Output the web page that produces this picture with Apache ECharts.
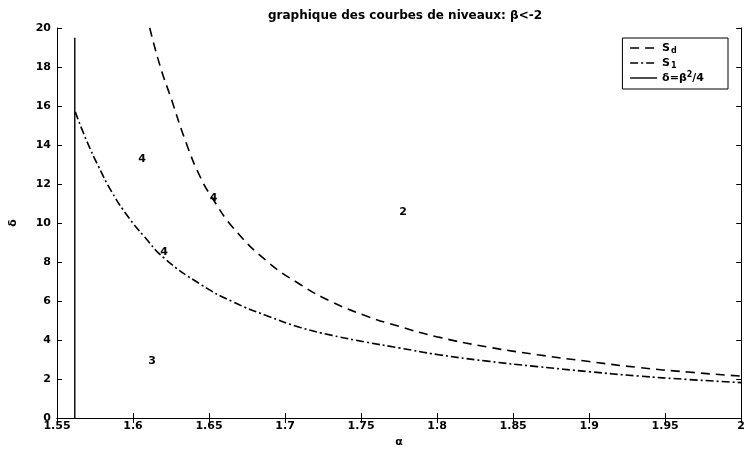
<!DOCTYPE html>
<html><head><meta charset="utf-8">
<script src="https://cdn.jsdelivr.net/npm/echarts@6/dist/echarts.min.js"></script>
<style>html,body{margin:0;padding:0;background:#fff}#c{width:748px;height:453px}</style>
</head><body><div id="c"></div>
<script>
const titleText = 'graphique des courbes de niveaux: β<-2';
const xTicks = { min: 1.55, max: 2, interval: 0.05 };
const yTicks = { min: 0, max: 20, interval: 2 };

const sdAlpha = [1.611,1.618,1.625,1.635,1.644,1.652,1.666,1.688,1.710,1.731,1.753,1.775,1.801,1.833,1.866,1.900,1.932,1.965,2.000];
const sdDelta = [20,18.0,16.4,14.1,12.4,11.3,9.75,8.05,6.85,5.95,5.25,4.7,4.15,3.65,3.25,2.9,2.6,2.36,2.15];

const s1Alpha = [1.562,1.5696,1.577,1.586,1.597,1.6075,1.6205,1.6446,1.666,1.688,1.710,1.731,1.753,1.775,1.801,1.833,1.866,1.900,1.932,1.965,2.000];
const s1Delta = [15.7,14.2,12.95,11.6,10.3,9.3,8.2,6.85,5.95,5.25,4.65,4.24,3.9,3.6,3.25,2.92,2.64,2.38,2.16,1.98,1.82];

const vAlpha = [1.5617,1.5617];
const vDelta = [0,19.5];

const noteText = ['4','4','4','2','3'];
const noteAlpha = [1.606,1.653,1.6204,1.7777,1.6126];
const noteDelta = [13.3,11.3,8.5,10.56,2.9];

const seriesNames = ['S_d','S_1','delta'];

const zip = (a,b) => a.map((v,i) => [v,b[i]]);
const F = '"DejaVu Sans", Arial, sans-serif';
const chart = echarts.init(document.getElementById('c'), null, {renderer:'canvas'});
const axisCommon = {
  axisLine:{show:true,lineStyle:{color:'#000',width:1}},
  axisTick:{show:true,inside:true,length:5,lineStyle:{color:'#000'}},
  splitLine:{show:false}
};
const txt = {fontFamily:F,fontSize:11,fontWeight:'bold',color:'#000'};
chart.setOption({
  animation:false,
  backgroundColor:'#fff',
  title:{text:titleText,left:400,textAlign:'center',top:5,textStyle:Object.assign({},txt,{fontSize:12})},
  grid:{left:55,right:3,top:28,bottom:29},
  legend:{
    data:seriesNames,
    orient:'vertical', right:20, top:38,
    backgroundColor:'#fff', borderColor:'#000', borderWidth:1, borderRadius:0,
    padding:[3,24,4,7], itemGap:1, itemWidth:27, itemHeight:12,
    itemStyle:{opacity:0},
    lineStyle:{color:'#000',width:1.4},
    formatter: n => n==='S_d' ? '{b|S}{s|d}' : n==='S_1' ? '{b|S}{s|1}' : '{b|δ=β}{p|2}{b|/4}',
    textStyle:{fontFamily:F,fontWeight:'bold',color:'#000',fontSize:11,lineHeight:14,
      rich:{b:{fontFamily:F,fontWeight:'bold',fontSize:11,color:'#000',lineHeight:14},
            s:{fontFamily:F,fontWeight:'bold',fontSize:8,color:'#000',lineHeight:14,verticalAlign:'bottom',padding:[5,0,0,1]},
            p:{fontFamily:F,fontWeight:'bold',fontSize:8,color:'#000',lineHeight:14,verticalAlign:'top',padding:[0,0,4,0]}}}
  },
  xAxis:[
    Object.assign({type:'value',min:xTicks.min,max:xTicks.max,interval:xTicks.interval,position:'bottom',
      name:'α',nameLocation:'middle',nameGap:16,nameTextStyle:txt,
      axisLabel:Object.assign({margin:3,formatter:v=>String(+v.toFixed(2))},txt)},axisCommon),
    Object.assign({type:'value',min:xTicks.min,max:xTicks.max,interval:xTicks.interval,position:'top',axisLabel:{show:false}},axisCommon)
  ],
  yAxis:[
    Object.assign({type:'value',min:yTicks.min,max:yTicks.max,interval:yTicks.interval,position:'left',
      name:'δ',nameLocation:'middle',nameGap:38,nameTextStyle:txt,
      axisLabel:Object.assign({margin:6},txt)},axisCommon),
    Object.assign({type:'value',min:yTicks.min,max:yTicks.max,interval:yTicks.interval,position:'right',axisLabel:{show:false}},axisCommon)
  ],
  series:[
    {name:'S_d',type:'line',data:zip(sdAlpha,sdDelta),smooth:0.5,symbol:'none',clip:true,
      lineStyle:{color:'#000',width:1.6,type:[9,6]},itemStyle:{color:'#000'}},
    {name:'S_1',type:'line',data:zip(s1Alpha,s1Delta),smooth:0.5,symbol:'none',clip:true,
      lineStyle:{color:'#000',width:1.6,type:[8,3,2,3]},itemStyle:{color:'#000'}},
    {name:'delta',type:'line',data:zip(vAlpha,vDelta),symbol:'none',
      lineStyle:{color:'#000',width:1.4,type:'solid'},itemStyle:{color:'#000'}},
    {name:'notes',type:'scatter',symbolSize:0,silent:true,itemStyle:{color:'#000',opacity:1},
      data:noteText.map((t,i)=>({name:t,value:[noteAlpha[i],noteDelta[i]]})),
      label:Object.assign({show:true,position:'inside',opacity:1,formatter:p=>p.name},txt)}
  ]
});
</script></body></html>
